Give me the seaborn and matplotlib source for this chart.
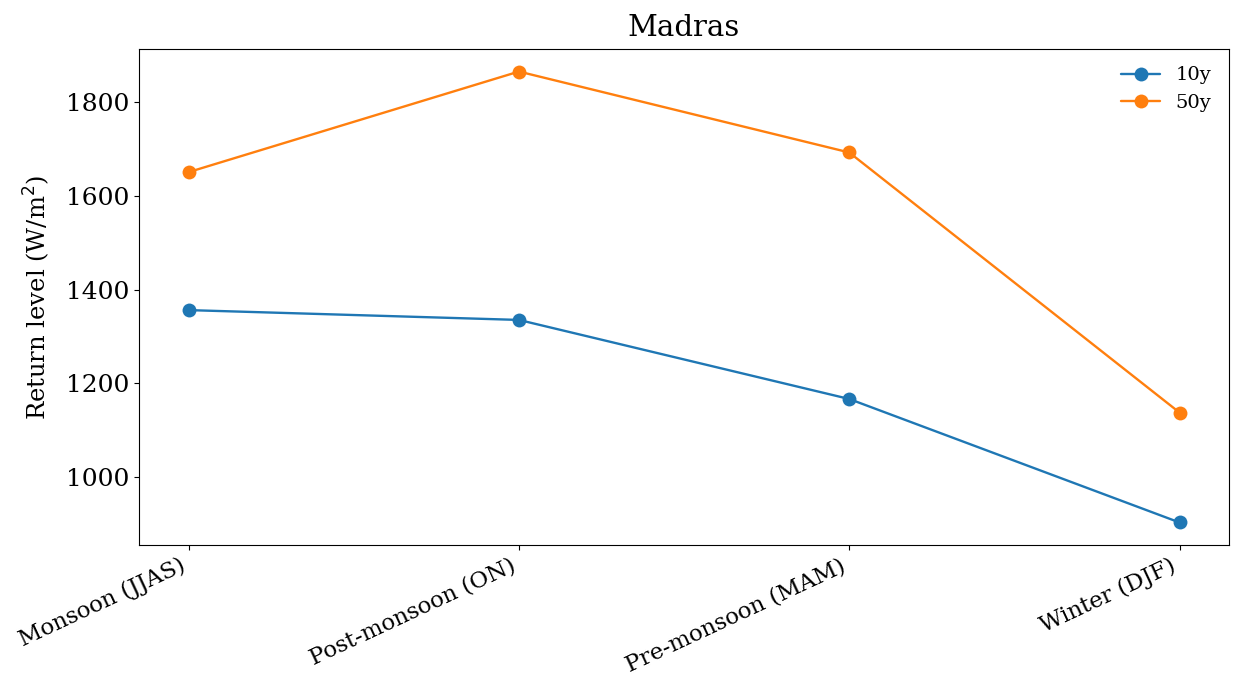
import pandas as pd
import matplotlib.pyplot as plt
import seaborn as sns

# Данные
seasons = ['Monsoon (JJAS)', 'Post-monsoon (ON)', 'Pre-monsoon (MAM)', 'Winter (DJF)']
rl_10y = [1356, 1335, 1166, 902]
rl_50y = [1651, 1866, 1693, 1137]

sns.set_style('ticks', {'axes.edgecolor': 'black', 'text.color': 'black',
                        'axes.labelcolor': 'black', 'xtick.color': 'black',
                        'ytick.color': 'black'})
plt.rcParams.update({
    'font.family': ['DejaVu Serif'],
    'axes.spines.top': True,
    'axes.spines.right': True,
})

df = pd.DataFrame({
    'season': seasons * 2,
    'value': rl_10y + rl_50y,
    'period': ['10y'] * len(seasons) + ['50y'] * len(seasons),
})

fig, ax = plt.subplots(figsize=(12.46, 6.95), dpi=100)
fig.subplots_adjust(left=0.1116, right=0.9864, top=0.9295, bottom=0.2158)

sns.lineplot(data=df, x='season', y='value', hue='period', sort=False,
             marker='o', markersize=10, markeredgewidth=0, lw=1.7,
             palette=['#1f77b4', '#ff7f0e'], ax=ax)

ax.set_title('Madras', fontsize=21, pad=9)
ax.set_xlabel('')
ax.set_ylabel('Return level (W/m$^2$)', fontsize=17.5, labelpad=10)
ax.tick_params(axis='y', labelsize=18)
ax.tick_params(axis='x', labelsize=16.5)
plt.setp(ax.get_xticklabels(), rotation=25, ha='right')
ax.legend(frameon=False, fontsize=14, title=None)

fig.savefig('out.png', dpi=100)
